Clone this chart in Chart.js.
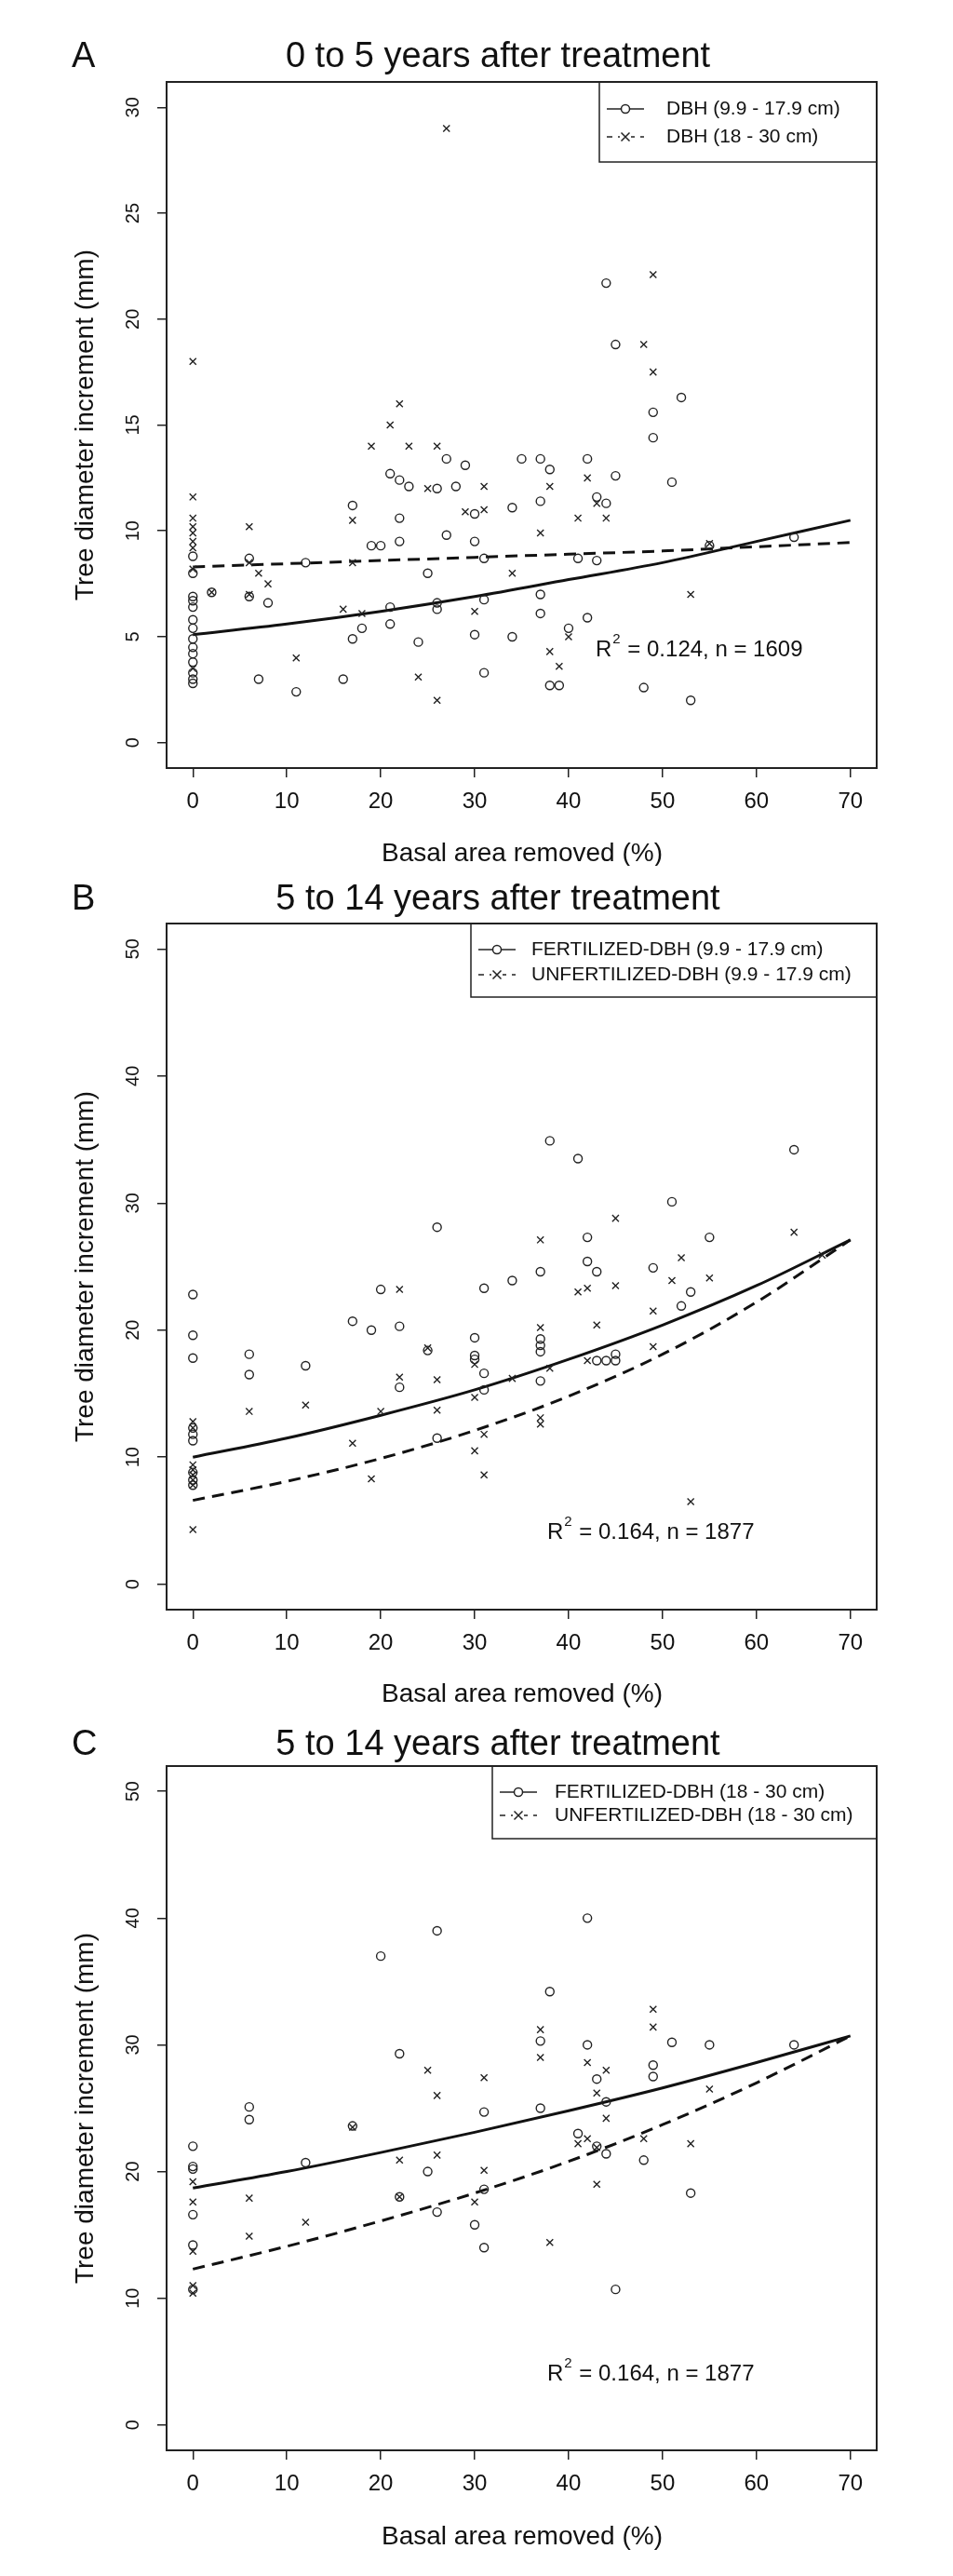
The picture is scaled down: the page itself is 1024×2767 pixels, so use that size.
<!DOCTYPE html>
<html><head><meta charset="utf-8">
<script src="https://cdn.jsdelivr.net/npm/chart.js@4"></script>
<style>
body{margin:0;background:#fff;width:1024px;height:2767px;position:relative;overflow:hidden}
canvas{position:absolute;left:0}
</style></head><body>
<canvas id="cA" width="1024" height="930" style="top:0px"></canvas>
<canvas id="cB" width="1024" height="925" style="top:930px"></canvas>
<canvas id="cC" width="1024" height="912" style="top:1855px"></canvas>
<script>
// ---- shared axis data ----
const xTicks = [0,10,20,30,40,50,60,70];
const yTicksA = [0,5,10,15,20,25,30];
const yTicksBC = [0,10,20,30,40,50];
const curveX = [0,10,20,30,40,50,60,70];

// ---- Panel A ----
const aTitle = "0 to 5 years after treatment";
const aLegend = ["DBH (9.9 - 17.9 cm)", "DBH (18 - 30 cm)"];
const aStat = "0.124, n = 1609";
const aSmall = [[49,14.4],[27,13.4],[29,13.1],[35,13.4],[37,13.4],[38,12.9],[42,13.4],[21,12.7],[22,12.4],[23,12.1],[26,12.0],[28,12.1],[45,12.6],[51,12.3],[17,11.2],[37,11.4],[34,11.1],[43,11.6],[44,11.3],[30,10.8],[22,10.6],[27,9.8],[30,9.5],[22,9.5],[19,9.3],[20,9.3],[64,9.7],[12,8.5],[31,8.7],[41,8.7],[43,8.6],[6,8.7],[25,8.0],[37,7.0],[31,6.75],[37,6.1],[42,5.9],[26,6.3],[21,6.4],[21,5.6],[18,5.4],[17,4.9],[24,4.75],[30,5.1],[34,5.0],[40,5.4],[8,6.6],[6,6.9],[7,3.0],[11,2.4],[16,3.0],[31,3.3],[38,2.7],[39,2.7],[48,2.6],[53,2.0],[2,7.1],[44,21.7],[45,18.8],[52,16.3],[49,15.6],[55,9.3],[26,6.6],
 [0,8.8],[0,8.0],[0,6.9],[0,6.7],[0,6.4],[0,5.8],[0,5.4],[0,4.9],[0,4.5],[0,4.2],[0,3.8],[0,3.3],[0,3.0],[0,2.8]];
const aLarge = [[27,29],[0,18],[22,16],[21,15],[49,22.1],[48,18.8],[49,17.5],[19,14],[23,14],[26,14],[25,12],[31,12.1],[38,12.1],[42,12.5],[0,11.6],[29,10.9],[31,11],[17,10.5],[41,10.6],[44,10.6],[43,11.3],[6,10.2],[37,9.9],[55,9.4],[0,10.6],[0,10.2],[0,9.9],[0,9.5],[0,9.2],[17,8.5],[7,8.0],[8,7.5],[34,8.0],[2,7.1],[6,7.0],[53,7.0],[16,6.3],[18,6.1],[30,6.2],[40,5.0],[38,4.3],[39,3.6],[11,4.0],[24,3.1],[26,2.0],[0,3.5],[0,8.2],[6,8.5]];
const aSmallFit = [5.1,5.6,6.2,6.9,7.7,8.5,9.5,10.5];
const aLargeFit = [8.3,8.45,8.6,8.75,8.9,9.05,9.25,9.45];

// ---- Panel B ----
const bTitle = "5 to 14 years after treatment";
const bLegend = ["FERTILIZED-DBH (9.9 - 17.9 cm)", "UNFERTILIZED-DBH (9.9 - 17.9 cm)"];
const bStat = "0.164, n = 1877";
const bFert = [[38,34.9],[41,33.5],[64,34.2],[51,30.1],[26,28.1],[42,27.3],[55,27.3],[42,25.4],[43,24.6],[37,24.6],[49,24.9],[34,23.9],[31,23.3],[20,23.2],[0,22.8],[53,23.0],[52,21.9],[17,20.7],[19,20.0],[22,20.3],[30,19.4],[37,19.3],[37,18.8],[37,18.3],[30,18.0],[30,17.7],[25,18.4],[0,17.8],[6,18.1],[6,16.5],[12,17.2],[43,17.6],[44,17.6],[45,18.1],[45,17.6],[31,16.6],[31,15.3],[22,15.5],[37,16.0],[26,11.5],[0,19.6],[0,12.3],[0,11.8],[0,11.3],[0,8.8],[0,8.2],[0,7.8]];
const bUnfert = [[45,28.8],[37,27.1],[64,27.7],[52,25.7],[51,23.9],[55,24.1],[22,23.2],[42,23.3],[41,23.0],[45,23.5],[43,20.4],[49,21.5],[49,18.7],[42,17.6],[38,17.0],[34,16.2],[30,17.3],[26,16.1],[22,16.3],[30,14.7],[6,13.6],[12,14.1],[20,13.6],[26,13.7],[37,13.1],[37,12.6],[17,11.1],[31,11.8],[30,10.5],[19,8.3],[31,8.6],[53,6.5],[0,4.3],[0,12.8],[0,12.3],[0,9.4],[0,9.0],[0,8.6],[0,8.2],[0,7.8],[37,20.2],[25,18.6],[67,25.9]];
const bFertFit = [10.0,11.5,13.3,15.3,17.7,20.4,23.5,27.1];
const bUnfertFit = [6.6,8.1,9.9,12.1,14.8,18.1,22.2,27.1];

// ---- Panel C ----
const cTitle = "5 to 14 years after treatment";
const cLegend = ["FERTILIZED-DBH (18 - 30 cm)", "UNFERTILIZED-DBH (18 - 30 cm)"];
const cStat = "0.164, n = 1877";
const cFert = [[42,40],[26,39],[20,37],[38,34.2],[37,30.3],[42,30],[51,30.2],[55,30],[64,30],[22,29.3],[49,28.4],[49,27.5],[43,27.3],[44,25.5],[6,25.1],[6,24.1],[31,24.7],[37,25],[0,22],[41,23],[17,23.6],[0,20.4],[0,20.2],[12,20.7],[25,20],[44,21.4],[48,20.9],[53,18.3],[0,16.6],[26,16.8],[30,15.8],[31,14.0],[0,14.2],[45,10.7],[22,18.0],[0,10.7],[31,18.6],[43,22.0]];
const cUnfert = [[49,32.8],[49,31.4],[37,31.2],[37,29],[42,28.6],[44,28],[25,28],[31,27.4],[26,26],[43,26.2],[55,26.5],[44,24.2],[17,23.5],[41,22.2],[42,22.6],[43,21.9],[48,22.6],[53,22.2],[22,20.9],[26,21.3],[31,20.1],[0,19.2],[0,17.6],[6,17.9],[22,18],[30,17.6],[43,19],[12,16],[6,14.9],[38,14.4],[0,13.7],[0,11],[0,10.4]];
const cFertFit = [18.7,20.0,21.5,23.1,24.8,26.6,28.6,30.7];
const cUnfertFit = [12.3,14.1,16.1,18.3,20.8,23.7,27.0,30.7];

const FONT = "'Liberation Sans', Arial, sans-serif";
const pts = a => a.map(p => ({x:p[0], y:p[1]}));
const fit = a => curveX.map((x,i) => ({x, y:a[i]}));

function makePanel(id, o){
  const H = document.getElementById(id).height;
  const deco = {
    id:'deco',
    afterDraw(ch){
      const c = ch.ctx, ca = ch.chartArea, ys = ch.scales.y, xs = ch.scales.x;
      c.save();
      c.strokeStyle='#222'; c.lineWidth=2;
      c.strokeRect(ca.left, ca.top, ca.right-ca.left, ca.bottom-ca.top);
      c.fillStyle='#111';
      // panel letter + title
      c.textBaseline='alphabetic'; c.textAlign='left';
      c.font='38px '+FONT; c.fillText(o.letter, 77, o.titleY);
      c.textAlign='center'; c.fillText(o.title, 535, o.titleY);
      // y tick labels rotated
      c.font='20px '+FONT; c.textBaseline='middle';
      o.yTicks.forEach(v=>{ const y=ys.getPixelForValue(v);
        c.save(); c.translate(143,y); c.rotate(-Math.PI/2); c.fillText(String(v),0,0); c.restore(); });
      // axis titles
      c.font='28px '+FONT;
      c.save(); c.translate(92,(ca.top+ca.bottom)/2); c.rotate(-Math.PI/2);
      c.fillText('Tree diameter increment (mm)',0,0); c.restore();
      c.fillText('Basal area removed (%)', 561, o.xLabY);
      // stat
      c.textAlign='left';
      c.font='24px '+FONT; let sx=o.statX, sy=o.statY;
      c.fillText('R',sx,sy); sx+=c.measureText('R').width;
      c.font='15px '+FONT; c.fillText('2',sx+1,sy-11); sx+=c.measureText('2').width+2;
      c.font='24px '+FONT; c.fillText(' = '+o.stat,sx,sy);
      // legend
      const L=o.leg; c.lineWidth=1.5; c.strokeStyle='#222';
      c.strokeRect(L.x, ca.top, ca.right-L.x, L.h);
      c.font='21px '+FONT; c.textAlign='left';
      [0,1].forEach(i=>{
        const y=ca.top+L.rows[i];
        c.lineWidth=1.5; c.setLineDash(i?[6,6]:[]);
        c.beginPath(); c.moveTo(L.x+8,y); c.lineTo(L.x+48,y); c.stroke(); c.setLineDash([]);
        const mx=L.x+28;
        if(i===0){ c.beginPath(); c.arc(mx,y,4.5,0,Math.PI*2); c.fillStyle='#fff'; c.fill(); c.stroke(); }
        else { c.fillStyle='#fff'; c.fillRect(mx-6,y-6,12,12); c.beginPath(); c.moveTo(mx-4.5,y-4.5); c.lineTo(mx+4.5,y+4.5); c.moveTo(mx+4.5,y-4.5); c.lineTo(mx-4.5,y+4.5); c.stroke(); }
        c.fillStyle='#111'; c.fillText(o.legend[i], L.tx, y);
      });
      c.restore();
    }
  };
  return new Chart(document.getElementById(id), {
    type:'scatter',
    data:{datasets:[
      {data:pts(o.s1), pointStyle:'circle', radius:4.5, borderColor:'#222', backgroundColor:'rgba(0,0,0,0)', borderWidth:1.4},
      {data:pts(o.s2), pointStyle:'crossRot', radius:5, borderColor:'#222', borderWidth:1.4},
      {data:fit(o.f1), showLine:true, pointRadius:0, borderColor:'#111', borderWidth:3, cubicInterpolationMode:'monotone', fill:false},
      {data:fit(o.f2), showLine:true, pointRadius:0, borderColor:'#111', borderWidth:3, borderDash:[13,8], cubicInterpolationMode:'monotone', fill:false}
    ]},
    options:{
      responsive:false, animation:false, devicePixelRatio:1,
      layout:{padding:{left:0,right:1024-942,top:o.top,bottom:0}},
      plugins:{legend:{display:false}, tooltip:{enabled:false}},
      scales:{
        x:{type:'linear', min:-2.8, max:72.8, afterBuildTicks:s=>{s.ticks=xTicks.map(v=>({value:v}));},
           afterFit:s=>{s.height=H-o.bottom;},
           grid:{drawOnChartArea:false, drawTicks:true, tickLength:10, color:'#222', lineWidth:1.5},
           border:{display:false},
           ticks:{font:{family:FONT,size:24}, color:'#111', padding:12, maxRotation:0}},
        y:{type:'linear', min:o.ymin, max:o.ymax, afterBuildTicks:s=>{s.ticks=o.yTicks.map(v=>({value:v}));},
           afterFit:s=>{s.width=179;},
           grid:{drawOnChartArea:false, drawTicks:true, tickLength:10, color:'#222', lineWidth:1.5},
           border:{display:false},
           ticks:{callback:()=>''}}
      }
    },
    plugins:[deco]
  });
}

makePanel('cA',{letter:'A', title:aTitle, titleY:72, top:88, bottom:825, ymin:-1.2, ymax:31.2, yTicks:yTicksA,
  s1:aSmall, s2:aLarge, f1:aSmallFit, f2:aLargeFit, legend:aLegend, stat:aStat, statX:640, statY:698, xLabY:917,
  leg:{x:644, h:86, rows:[29,59], tx:716}});
makePanel('cB',{letter:'B', title:bTitle, titleY:47, top:62, bottom:799, ymin:-2, ymax:52, yTicks:yTicksBC,
  s1:bFert, s2:bUnfert, f1:bFertFit, f2:bUnfertFit, legend:bLegend, stat:bStat, statX:588, statY:716, xLabY:890,
  leg:{x:506, h:79, rows:[28,55], tx:571}});
makePanel('cC',{letter:'C', title:cTitle, titleY:30, top:42, bottom:777, ymin:-2, ymax:52, yTicks:yTicksBC,
  s1:cFert, s2:cUnfert, f1:cFertFit, f2:cUnfertFit, legend:cLegend, stat:cStat, statX:588, statY:695, xLabY:870,
  leg:{x:529, h:78, rows:[28,53], tx:596}});
</script>
</body></html>
